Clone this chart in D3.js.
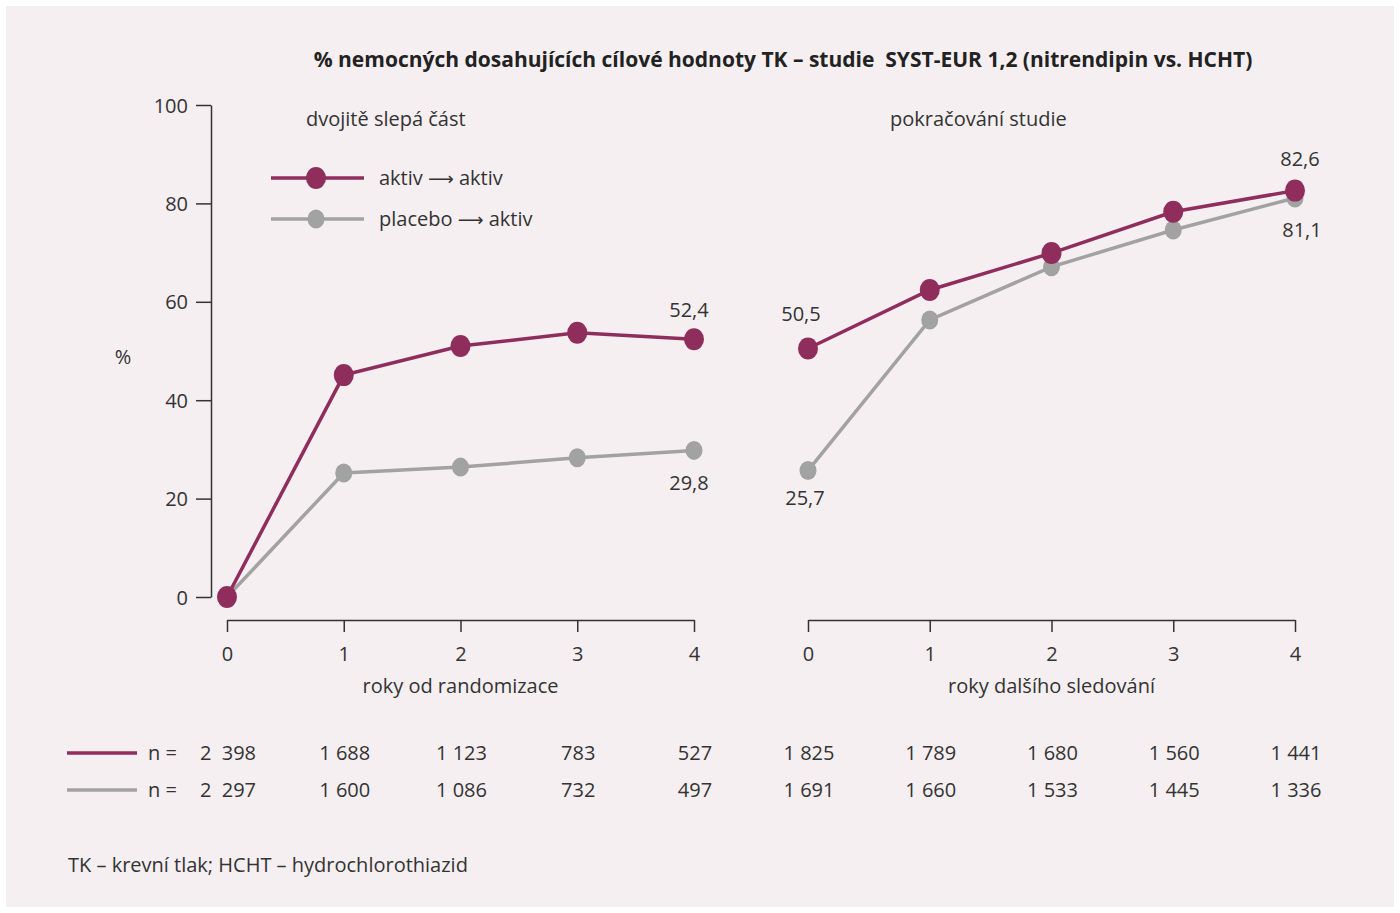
<!DOCTYPE html>
<html>
<head>
<meta charset="utf-8">
<script src="https://cdn.jsdelivr.net/npm/d3@7"></script>
<style>
  body { margin: 0; background: #fff; }
  text { font-family: "Open Sans", "Noto Sans", sans-serif; fill: #333; }
</style>
</head>
<body>
<svg id="chart" width="1400" height="913"></svg>
<script>
const years = [0, 1, 2, 3, 4];
const yTicks = [0, 20, 40, 60, 80, 100];

// dvojitě slepá část
const activeBlind = [0, 45.1, 51.0, 53.7, 52.4];
const placeboBlind = [0, 25.2, 26.4, 28.3, 29.8];
// pokračování studie
const activeFollow = [50.5, 62.4, 69.9, 78.3, 82.6];
const placeboFollow = [25.7, 56.3, 67.1, 74.6, 81.1];

const nActiveBlind = ['2  398', '1 688', '1 123', '783', '527'];
const nPlaceboBlind = ['2  297', '1 600', '1 086', '732', '497'];
const nActiveFollow = ['1 825', '1 789', '1 680', '1 560', '1 441'];
const nPlaceboFollow = ['1 691', '1 660', '1 533', '1 445', '1 336'];

const purple = '#8f2d5c', grey = '#a2a2a2';

const svg = d3.select('#chart');
svg.append('rect').attr('x', 6).attr('y', 6).attr('width', 1388).attr('height', 901).attr('fill', '#f5eff1');

const y = d3.scaleLinear().domain([0, 100]).range([597, 105]);
const xL = d3.scaleLinear().domain([0, 4]).range([227, 694]);
const xR = d3.scaleLinear().domain([0, 4]).range([808, 1295]);

svg.append('text').attr('x', 783).attr('y', 67).attr('text-anchor', 'middle')
  .attr('xml:space', 'preserve')
  .style('font-size', '21px').style('font-weight', 700).style('fill', '#222')
  .text('% nemocných dosahujících cílové hodnoty TK – studie  SYST-EUR 1,2 (nitrendipin vs. HCHT)');

// y axis
const yAxis = svg.append('g').attr('transform', 'translate(211,0)')
  .call(d3.axisLeft(y).tickValues(yTicks).tickSize(15).tickSizeOuter(0).tickPadding(8));
yAxis.selectAll('text').style('font-size', '20px').attr('dy', '0.35em');
yAxis.selectAll('line, path').attr('stroke', '#333').attr('stroke-width', 1.5);

svg.append('text').attr('x', 123).attr('y', 364).attr('text-anchor', 'middle')
  .style('font-size', '20px').text('%');

// x axes
function xAxis(scale, label) {
  const g = svg.append('g').attr('transform', 'translate(0,620)')
    .call(d3.axisBottom(scale).tickValues(years).tickSize(12).tickSizeOuter(0).tickPadding(15)
      .tickFormat(d3.format('d')));
  g.selectAll('text').style('font-size', '20px');
  g.selectAll('line, path').attr('stroke', '#333').attr('stroke-width', 1.5);
  svg.append('text').attr('x', (scale.range()[0] + scale.range()[1]) / 2).attr('y', 693)
    .attr('text-anchor', 'middle').style('font-size', '20px').text(label);
}
xAxis(xL, 'roky od randomizace');
xAxis(xR, 'roky dalšího sledování');

svg.append('text').attr('x', 306).attr('y', 126).style('font-size', '20px').text('dvojitě slepá část');
svg.append('text').attr('x', 890).attr('y', 126).style('font-size', '20px').text('pokračování studie');

function series(scale, vals, color, r) {
  const line = d3.line().x((d, i) => scale(years[i])).y(d => y(d));
  svg.append('path').datum(vals).attr('d', line).attr('fill', 'none')
    .attr('stroke', color).attr('stroke-width', 3.5);
  svg.append('g').selectAll('ellipse').data(vals).join('ellipse')
    .attr('cx', (d, i) => scale(years[i])).attr('cy', d => y(d))
    .attr('rx', r).attr('ry', r + 1).attr('fill', color);
}
series(xL, placeboBlind, grey, 8.5);
series(xR, placeboFollow, grey, 8.5);
series(xL, activeBlind, purple, 10);
series(xR, activeFollow, purple, 10);

// value labels
const labels = [
  [689, 317, '52,4'], [689, 490, '29,8'], [801, 321, '50,5'],
  [805, 505, '25,7'], [1300, 166, '82,6'], [1302, 237, '81,1']
];
svg.append('g').selectAll('text').data(labels).join('text')
  .attr('x', d => d[0]).attr('y', d => d[1]).attr('text-anchor', 'middle')
  .style('font-size', '20px').text(d => d[2]);

// legend
const legend = [['aktiv', purple, 10, 178], ['placebo', grey, 8.5, 219]];
legend.forEach(([t, c, r, ly]) => {
  svg.append('line').attr('x1', 271).attr('x2', 364).attr('y1', ly).attr('y2', ly)
    .attr('stroke', c).attr('stroke-width', 3.5);
  svg.append('ellipse').attr('cx', 316).attr('cy', ly).attr('rx', r).attr('ry', r + 1).attr('fill', c);
  const tx = svg.append('text').attr('x', 379).attr('y', ly + 7).style('font-size', '20px');
  tx.append('tspan').text(t + ' ');
  tx.append('tspan').style('font-family', '"DejaVu Sans"').style('font-size', '18px').text('⟶');
  tx.append('tspan').text(' aktiv');
});

// n table
const rows = [
  [purple, nActiveBlind, nActiveFollow, 753],
  [grey, nPlaceboBlind, nPlaceboFollow, 790]
];
rows.forEach(([c, a, b, ry]) => {
  svg.append('line').attr('x1', 67).attr('x2', 137).attr('y1', ry).attr('y2', ry)
    .attr('stroke', c).attr('stroke-width', 3.5);
  svg.append('text').attr('x', 148).attr('y', ry + 7).style('font-size', '20px').text('n =');
  svg.append('g').selectAll('text').data(a).join('text')
    .attr('x', (d, i) => xL(years[i]) + 1).attr('y', ry + 7).attr('text-anchor', 'middle')
    .attr('xml:space', 'preserve').style('font-size', '20px').text(d => d);
  svg.append('g').selectAll('text').data(b).join('text')
    .attr('x', (d, i) => xR(years[i]) + 1).attr('y', ry + 7).attr('text-anchor', 'middle')
    .style('font-size', '20px').text(d => d);
});

svg.append('text').attr('x', 68).attr('y', 872).style('font-size', '20px')
  .text('TK – krevní tlak; HCHT – hydrochlorothiazid');
</script>
</body>
</html>
